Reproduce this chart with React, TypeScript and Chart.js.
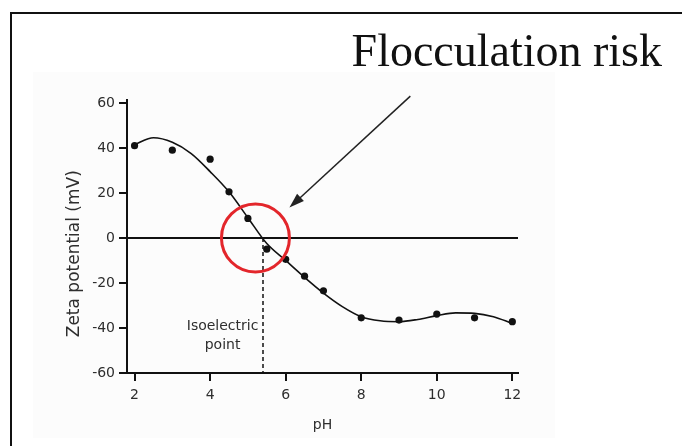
import React, { useEffect, useRef } from 'react';
import { Chart, registerables } from 'chart.js';

Chart.register(...registerables);

// measured zeta potential points
const measuredPH = [2, 3, 4, 4.5, 5, 5.5, 6, 6.5, 7, 8, 9, 10, 11, 12];
const measuredZeta = [41, 39, 35, 20.5, 8.7, -5, -9.5, -17, -23.5, -35.5, -36.5, -33.8, -35.5, -37.2];

// fitted smooth curve
const fitPH = [2, 2.5, 3, 3.5, 4, 4.5, 5, 5.5, 6, 6.5, 7, 7.5, 8, 8.5, 9, 9.5, 10, 10.5, 11, 11.5, 12];
const fitZeta = [41.5, 44.5, 42.5, 37.5, 29.5, 20.5, 9, -2.5, -10, -17.5, -24.5, -30.5, -35, -36.8, -37.2, -36.2, -34.5, -33.3, -33.5, -35, -38];

const xTicks = [2, 4, 6, 8, 10, 12];
const yTicks = [-60, -40, -20, 0, 20, 40, 60];

const isoelectricPH = 5.4;
const isoelectricSpan = [0, -60];
const riskCenterPH = [5.2];
const riskCenterZeta = [0];

const titleText = 'Flocculation risk';
const isoLabel = ['Isoelectric', 'point'];
const xTitle = 'pH';
const yTitle = 'Zeta potential (mV)';

const SANS = '"DejaVu Sans", sans-serif';

const overlayPlugin = {
  id: 'overlay',
  beforeDraw(chart: any) {
    const ctx = chart.ctx;
    ctx.save();
    ctx.fillStyle = '#ffffff';
    ctx.fillRect(0, 0, chart.width, chart.height);
    ctx.fillStyle = '#fcfcfc';
    ctx.fillRect(33, 72, 522, 366);
    ctx.fillStyle = '#111111';
    ctx.fillRect(10, 12, chart.width - 10, 2);
    ctx.fillRect(10, 12, 2, chart.height - 12);
    ctx.restore();
  },
  afterDraw(chart: any) {
    const ctx = chart.ctx;
    const xs = chart.scales.x;
    const ys = chart.scales.y;
    ctx.save();
    // title
    ctx.fillStyle = '#111111';
    ctx.font = '46px "Liberation Serif", serif';
    ctx.textAlign = 'right';
    ctx.textBaseline = 'alphabetic';
    ctx.fillText(titleText, 662, 66);

    // y axis title
    ctx.save();
    ctx.translate(75, ys.getPixelForValue(-7));
    ctx.rotate(-Math.PI / 2);
    ctx.fillStyle = '#2e2e2e';
    ctx.font = '17px ' + SANS;
    ctx.textAlign = 'center';
    ctx.textBaseline = 'middle';
    ctx.fillText(yTitle, 0, 0);
    ctx.restore();

    // isoelectric label
    ctx.fillStyle = '#2e2e2e';
    ctx.font = '14px ' + SANS;
    ctx.textAlign = 'center';
    ctx.textBaseline = 'middle';
    const lx = xs.getPixelForValue(isoelectricPH - 1.07);
    ctx.fillText(isoLabel[0], lx, ys.getPixelForValue(-39.3));
    ctx.fillText(isoLabel[1], lx, ys.getPixelForValue(-47.7));

    // arrow
    const x0 = xs.getPixelForValue(9.3);
    const y0 = ys.getPixelForValue(63);
    const x1 = xs.getPixelForValue(6.1);
    const y1 = ys.getPixelForValue(13.5);
    const ang = Math.atan2(y1 - y0, x1 - x0);
    const headLen = 15;
    const headW = 5;
    ctx.strokeStyle = '#222222';
    ctx.fillStyle = '#222222';
    ctx.lineWidth = 1.5;
    ctx.beginPath();
    ctx.moveTo(x0, y0);
    ctx.lineTo(x1 - Math.cos(ang) * headLen * 0.8, y1 - Math.sin(ang) * headLen * 0.8);
    ctx.stroke();
    const bx = x1 - Math.cos(ang) * headLen;
    const by = y1 - Math.sin(ang) * headLen;
    ctx.beginPath();
    ctx.moveTo(x1, y1);
    ctx.lineTo(bx + Math.sin(ang) * headW, by - Math.cos(ang) * headW);
    ctx.lineTo(bx - Math.sin(ang) * headW, by + Math.cos(ang) * headW);
    ctx.closePath();
    ctx.fill();
    ctx.restore();
  },
};

export default function App() {
  const ref = useRef<HTMLCanvasElement | null>(null);

  useEffect(() => {
    if (!ref.current) return;
    const chart = new Chart(ref.current, {
      type: 'scatter',
      data: {
        datasets: [
          {
            label: 'risk',
            data: riskCenterPH.map((x, i) => ({ x, y: riskCenterZeta[i] })),
            pointRadius: 34,
            pointBorderWidth: 3,
            pointBorderColor: '#e3262b',
            pointBackgroundColor: 'rgba(0,0,0,0)',
            showLine: false,
            order: 0,
          } as any,
          {
            label: 'measured',
            data: measuredPH.map((x, i) => ({ x, y: measuredZeta[i] })),
            pointRadius: 3.6,
            pointBorderWidth: 0,
            pointBackgroundColor: '#111111',
            showLine: false,
            order: 1,
          } as any,
          {
            type: 'line',
            label: 'fit',
            data: fitPH.map((x, i) => ({ x, y: fitZeta[i] })),
            borderColor: '#111111',
            borderWidth: 1.6,
            pointRadius: 0,
            cubicInterpolationMode: 'monotone',
            fill: false,
            order: 2,
          } as any,
          {
            type: 'line',
            label: 'isoelectric',
            data: isoelectricSpan.map((y) => ({ x: isoelectricPH, y })),
            borderColor: '#111111',
            borderWidth: 1.5,
            borderDash: [4, 3],
            pointRadius: 0,
            fill: false,
            order: 3,
          } as any,
        ],
      },
      options: {
        responsive: false,
        animation: false,
        layout: { padding: { top: 100, right: 164, left: 0, bottom: 0 } },
        plugins: {
          legend: { display: false },
          tooltip: { enabled: false },
        },
        scales: {
          x: {
            type: 'linear',
            min: 1.8,
            max: 12.15,
            afterBuildTicks: (s: any) => {
              s.ticks = xTicks.map((v) => ({ value: v }));
            },
            afterFit: (s: any) => {
              s.height = 73;
            },
            grid: {
              drawOnChartArea: false,
              drawTicks: true,
              tickLength: 8,
              tickColor: '#111111',
              lineWidth: 2,
              color: '#111111',
            },
            border: { display: true, color: '#111111', width: 2 },
            ticks: {
              font: { family: SANS, size: 14 },
              color: '#2e2e2e',
              padding: 6,
              maxRotation: 0,
              autoSkip: false,
            },
            title: {
              display: true,
              text: xTitle,
              font: { family: SANS, size: 14 },
              color: '#2e2e2e',
              padding: { top: 0, bottom: 12 },
            },
          },
          y: {
            type: 'linear',
            min: -60,
            max: 61.3,
            afterBuildTicks: (s: any) => {
              s.ticks = yTicks.map((v) => ({ value: v }));
            },
            afterFit: (s: any) => {
              s.width = 127;
            },
            grid: {
              drawOnChartArea: true,
              drawTicks: true,
              tickLength: 8,
              tickColor: '#111111',
              lineWidth: 2,
              color: (c: any) => (c.tick && c.tick.value === 0 ? '#111111' : 'rgba(0,0,0,0)'),
            },
            border: { display: true, color: '#111111', width: 2 },
            ticks: {
              font: { family: SANS, size: 14 },
              color: '#2e2e2e',
              padding: 4,
              autoSkip: false,
            },
            title: { display: false },
          },
        },
      },
      plugins: [overlayPlugin],
    } as any);
    return () => chart.destroy();
  }, []);

  return (
    <div style={{ position: 'fixed', left: 0, top: 0, width: 682, height: 446 }}>
      <canvas ref={ref} width={682} height={446} style={{ width: 682, height: 446 }} />
    </div>
  );
}
